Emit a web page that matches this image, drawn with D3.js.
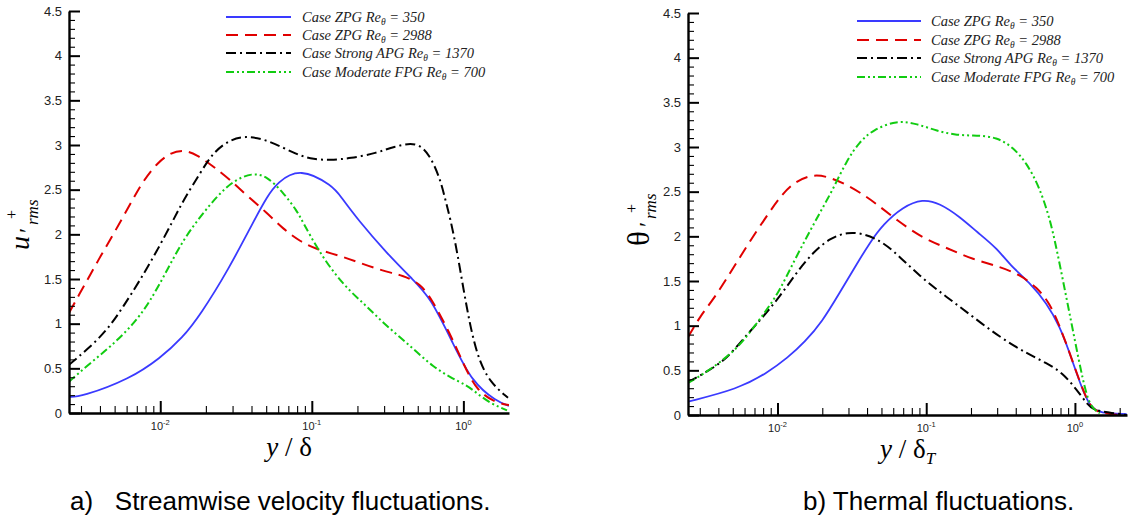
<!DOCTYPE html>
<html lang="en">
<head>
<meta charset="UTF-8">
<title>rms fluctuations</title>
<script src="https://d3js.org/d3.v7.min.js"></script>
<style>
  body { margin: 0; background: #fff; }
</style>
</head>
<body>
<script>
// data: [y/delta, rms value]
// a) streamwise velocity
uZpg350 = [[0.0025,0.18],[0.0030,0.18],[0.0063,0.38],[0.010,0.615],[0.014,0.84],[0.0184,1.10],[0.0281,1.60],
  [0.0423,2.18],[0.0507,2.42],[0.059,2.58],[0.0837,2.75],[0.138,2.54],[0.154,2.43],[0.202,2.16],[0.312,1.79],
  [0.466,1.49],[0.603,1.30],[0.854,0.78],[1.134,0.35],[1.66,0.127],[2.0,0.08]]
uZpg2988 = [[0.0025,1.12],[0.00297,1.35],[0.00346,1.55],[0.00408,1.77],[0.00483,1.98],[0.0057,2.20],[0.00664,2.40],
  [0.00773,2.60],[0.00955,2.80],[0.01164,2.91],[0.0142,2.95],[0.0175,2.89],[0.0224,2.76],[0.0289,2.61],[0.0375,2.43],
  [0.0507,2.24],[0.0647,2.06],[0.0837,1.92],[0.108,1.83],[0.154,1.76],[0.208,1.68],[0.295,1.59],[0.40,1.54],
  [0.518,1.45],[0.621,1.27],[0.816,0.89],[0.994,0.56],[1.23,0.24],[1.67,0.11],[2.0,0.09]]
uApg1370 = [[0.0025,0.54],[0.0033,0.71],[0.00448,0.93],[0.0057,1.19],[0.00738,1.49],[0.00955,1.82],[0.0122,2.16],
  [0.0142,2.38],[0.0184,2.69],[0.0224,2.92],[0.0289,3.06],[0.0363,3.10],[0.0477,3.07],[0.0647,2.97],[0.0837,2.88],
  [0.102,2.84],[0.132,2.83],[0.179,2.85],[0.269,2.91],[0.343,2.98],[0.494,3.04],[0.60,2.89],[0.70,2.63],
  [0.757,2.40],[0.816,2.19],[0.908,1.82],[1.056,1.15],[1.23,0.63],[1.50,0.34],[1.97,0.17]]
uFpg700 = [[0.0025,0.35],[0.00346,0.56],[0.00468,0.74],[0.00664,0.99],[0.00859,1.25],[0.0111,1.60],[0.0142,1.94],
  [0.0184,2.20],[0.0238,2.43],[0.0303,2.60],[0.0404,2.69],[0.0507,2.65],[0.0647,2.47],[0.080,2.26],[0.0877,2.13],
  [0.108,1.85],[0.138,1.58],[0.179,1.36],[0.232,1.19],[0.295,1.01],[0.382,0.85],[0.494,0.68],[0.631,0.52],
  [0.816,0.40],[1.056,0.31],[1.23,0.22],[1.50,0.11],[1.94,0.03]]

// b) thermal
tZpg350 = [[0.0025,0.15],[0.0054,0.29],[0.0085,0.47],[0.0117,0.64],[0.0153,0.82],[0.0199,1.04],[0.0262,1.37],
  [0.0341,1.69],[0.0418,1.93],[0.0511,2.13],[0.0695,2.33],[0.0948,2.42],[0.123,2.37],[0.168,2.22],[0.219,2.05],
  [0.298,1.87],[0.365,1.68],[0.497,1.48],[0.647,1.25],[0.792,0.99],[0.924,0.69],[1.079,0.36],[1.259,0.09],
  [1.47,0.02],[2.23,0.01]]
tZpg2988 = [[0.0025,0.87],[0.0030,1.10],[0.0038,1.32],[0.0048,1.59],[0.0058,1.81],[0.0073,2.07],[0.0089,2.28],
  [0.0104,2.44],[0.0127,2.60],[0.0173,2.70],[0.0225,2.66],[0.0292,2.58],[0.0375,2.47],[0.0466,2.36],[0.0634,2.18],
  [0.0948,1.98],[0.1375,1.87],[0.206,1.74],[0.313,1.66],[0.426,1.57],[0.554,1.43],[0.678,1.25],[0.792,0.99],
  [0.924,0.69],[1.079,0.37],[1.259,0.09],[1.47,0.02],[2.0,0.0]]
tApg1370 = [[0.0025,0.37],[0.0035,0.50],[0.0046,0.64],[0.0058,0.84],[0.0080,1.10],[0.0104,1.33],[0.0135,1.60],
  [0.0173,1.82],[0.0225,1.98],[0.0297,2.05],[0.0375,2.03],[0.0466,1.97],[0.0596,1.85],[0.0905,1.55],[0.1375,1.32],
  [0.206,1.10],[0.313,0.87],[0.474,0.69],[0.647,0.58],[0.830,0.47],[1.030,0.28],[1.20,0.13],[1.32,0.06],
  [1.64,0.03],[2.23,0.0]]
tFpg700 = [[0.0025,0.36],[0.0030,0.43],[0.0050,0.69],[0.0065,0.92],[0.0085,1.18],[0.0104,1.40],[0.0127,1.70],
  [0.0157,1.99],[0.0192,2.26],[0.0235,2.52],[0.0292,2.85],[0.0357,3.06],[0.0437,3.19],[0.0634,3.30],[0.0868,3.26],
  [0.118,3.18],[0.161,3.13],[0.219,3.13],[0.298,3.11],[0.382,3.00],[0.474,2.82],[0.577,2.55],[0.678,2.20],
  [0.756,1.85],[0.882,1.29],[0.998,0.84],[1.13,0.39],[1.26,0.09],[1.47,0.02]]

caseNames = ["Case ZPG", "Case ZPG", "Case Strong APG", "Case Moderate FPG"]
reTheta = [350, 2988, 1370, 700]
yTicks = [0, 0.5, 1, 1.5, 2, 2.5, 3, 3.5, 4, 4.5]
xTicks = [0.01, 0.1, 1]
xTickExp = ["-2", "-1", "0"]
captions = ["a)   Streamwise velocity fluctuations.", "b) Thermal fluctuations."]

// line looks, same order as the cases
looks = [
  {color: "#3a3aff", dash: null, w: 1.8},
  {color: "#e00000", dash: "12,7", w: 2},
  {color: "#000000", dash: "10,4,2,4", w: 2},
  {color: "#11cc11", dash: "8,3,2,3,2,3", w: 2}
]

sans = "'Liberation Sans', Arial, sans-serif"
serif = "'Liberation Serif', 'Times New Roman', serif"

svg = d3.select("body").append("svg")
    .attr("width", 1128)
    .attr("height", 519)

svg.append("rect").attr("width", 1128).attr("height", 519).attr("fill", "#fff")

function drawPanel(p, idx) {
    x = d3.scaleLog().domain(p.xDomain).range([p.left, p.right])
    y = d3.scaleLinear().domain([0, 4.5]).range([p.bottom, p.top])

    g = svg.append("g")

    g.append("clipPath").attr("id", "clip" + idx)
      .append("rect")
        .attr("x", p.left).attr("y", p.top - 5)
        .attr("width", p.right - p.left).attr("height", p.bottom - p.top + 5)

    //curves
    line = d3.line()
        .x((d) => x(d[0]))
        .y((d) => y(d[1]))
        .curve(d3.curveBasis)

    p.series.forEach((s, i) => {
        g.append("path")
            .attr("clip-path", "url(#clip" + idx + ")")
            .attr("d", line(s))
            .attr("fill", "none")
            .attr("stroke", looks[i].color)
            .attr("stroke-width", looks[i].w)
            .attr("stroke-dasharray", looks[i].dash)
    })

    //minor ticks
    minorY = d3.range(1, 45).map((k) => k / 10).filter((v) => Math.round(v * 10) % 5 != 0)
    minorX = []
    for (e = -3; e <= 0; e++)
        for (m = 2; m <= 9; m++) {
            v = m * Math.pow(10, e)
            if (v > p.xDomain[0] && v < p.xDomain[1]) minorX.push(v)
        }

    yMinor = g.append("g")
        .attr("transform", "translate(" + p.left + ",0)")
        .call(d3.axisLeft(y).tickValues(minorY).tickSize(-6).tickSizeOuter(0).tickFormat(""))
    xMinor = g.append("g")
        .attr("transform", "translate(0," + p.bottom + ")")
        .call(d3.axisBottom(x).tickValues(minorX).tickSize(-7).tickSizeOuter(0).tickFormat(""))
    ;[yMinor, xMinor].forEach((a) => {
        a.select(".domain").remove()
        a.selectAll(".tick line").attr("stroke", "#000").attr("stroke-width", 1.1)
    })

    //major ticks
    yAxis = g.append("g")
        .attr("transform", "translate(" + p.left + ",0)")
        .call(d3.axisLeft(y).tickValues(yTicks).tickSize(-11).tickSizeOuter(0).tickPadding(7)
            .tickFormat((d) => String(d)))
    yAxis.selectAll("text")
        .attr("font-family", sans).attr("font-size", 13).attr("fill", "#222")

    xAxis = g.append("g")
        .attr("transform", "translate(0," + p.bottom + ")")
        .call(d3.axisBottom(x).tickValues(xTicks).tickSize(-12).tickSizeOuter(0).tickFormat(""))

    ;[yAxis, xAxis].forEach((a) => {
        a.select(".domain").attr("stroke", "#000").attr("stroke-width", 2.4)
        a.selectAll(".tick line").attr("stroke", "#000").attr("stroke-width", 2)
    })

    xTicks.forEach((v, i) => {
        t = g.append("text")
            .attr("x", x(v)).attr("y", p.bottom + 17)
            .attr("text-anchor", "middle")
            .attr("font-family", sans).attr("fill", "#222")
        t.append("tspan").attr("font-size", 11).text("10")
        t.append("tspan").attr("font-size", 7.5).attr("dy", -5).text(xTickExp[i])
    })

    //axis titles
    xt = g.append("text")
        .attr("x", (p.left + p.right) / 2).attr("y", p.bottom + 43)
        .attr("text-anchor", "middle")
        .attr("font-family", serif).attr("font-size", 27)
    xt.append("tspan").attr("font-style", "italic").text("y")
    xt.append("tspan").text(" / \u03b4")
    if (p.xSub) xt.append("tspan").attr("font-style", "italic").attr("font-size", 17).attr("dy", 6).text(p.xSub)

    yl = g.append("g").attr("transform", "translate(" + p.yLab[0] + "," + p.yLab[1] + ") rotate(-90)")
        .attr("font-family", serif)
    yl.append("text").attr("font-size", p.ySize).attr("font-style", p.ySym == "u" ? "italic" : "normal").text(p.ySym)
    yl.append("text").attr("x", p.primeX).attr("y", 6).attr("font-size", 24).text("\u2032")
    yl.append("text").attr("x", p.primeX + 14).attr("y", -12.5).attr("font-size", 16).text("+")
    yl.append("text").attr("x", p.primeX + 8).attr("y", p.rmsY).attr("font-size", 17).attr("font-style", "italic").text("rms")

    //legend
    caseNames.forEach((name, i) => {
        ly = p.legY[i]
        g.append("line")
            .attr("x1", p.legX[0]).attr("x2", p.legX[1])
            .attr("y1", ly).attr("y2", ly)
            .attr("stroke", looks[i].color)
            .attr("stroke-width", looks[i].w)
            .attr("stroke-dasharray", looks[i].dash)
        lt = g.append("text")
            .attr("x", p.legX[2]).attr("y", ly + 4.5)
            .attr("font-family", serif).attr("font-style", "italic")
            .attr("font-size", 14.5).attr("fill", "#222")
        lt.append("tspan").text(name + " Re")
        lt.append("tspan").attr("font-size", 9.5).attr("dy", 3).text("\u03b8")
        lt.append("tspan").attr("dy", -3).text(" = " + reTheta[i])
    })

    //caption
    svg.append("text")
        .attr("x", p.capX).attr("y", 510)
        .attr("font-family", sans).attr("font-size", 26)
        .style("white-space", "pre")
        .text(captions[idx])
}

drawPanel({
    left: 69, right: 509, top: 11, bottom: 413,
    xDomain: [0.0025, 2.0],
    series: [uZpg350, uZpg2988, uApg1370, uFpg700],
    legX: [226, 291, 302], legY: [17, 35, 53, 72],
    ySym: "u", ySize: 28, primeX: 17, yLab: [29, 250], rmsY: 9, xSub: null,
    capX: 70
}, 0)

drawPanel({
    left: 688, right: 1127, top: 13, bottom: 415,
    xDomain: [0.0025, 2.24],
    series: [tZpg350, tZpg2988, tApg1370, tFpg700],
    legX: [857, 921, 931], legY: [21, 40, 58, 77],
    ySym: "\u03b8", ySize: 31, primeX: 19, yLab: [649, 246], rmsY: 7, xSub: "T",
    capX: 803
}, 1)
</script>
</body>
</html>
